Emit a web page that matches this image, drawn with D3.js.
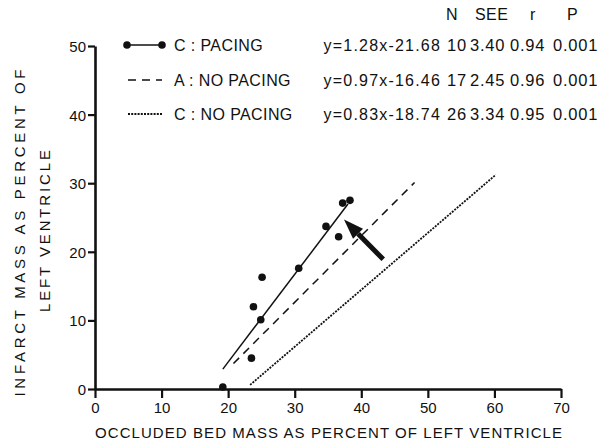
<!DOCTYPE html>
<html>
<head>
<meta charset="utf-8">
<script src="https://cdn.jsdelivr.net/npm/d3@7"></script>
<style>
  body { margin: 0; background: #fff; }
  svg text { font-family: "Liberation Sans", Arial, Helvetica, sans-serif; fill: #111; }
</style>
</head>
<body>
<svg id="chart" width="606" height="447"></svg>
<script>
// Données
const pacingX = [19.2, 23.5, 23.8, 24.9, 25.1, 30.6, 34.7, 36.6, 37.2, 38.3];
const pacingY = [0.3, 4.5, 12.0, 10.1, 16.3, 17.6, 23.7, 22.2, 27.1, 27.5];

const groups = ["C : PACING", "A : NO PACING", "C : NO PACING"];
const slopes = [1.28, 0.97, 0.83];
const intercepts = [-21.68, -16.46, -18.74];
const fitStart = [19.2, 20.8, 23.3];
const fitEnd = [38.0, 48.0, 60.2];
const equations = ["y=1.28x-21.68", "y=0.97x-16.46", "y=0.83x-18.74"];
const nValues = ["10", "17", "26"];
const seeValues = ["3.40", "2.45", "3.34"];
const rValues = ["0.94", "0.96", "0.95"];
const pValues = ["0.001", "0.001", "0.001"];
const statHeaders = ["N", "SEE", "r", "P"];

const xTicks = [0, 10, 20, 30, 40, 50, 60, 70];
const yTicks = [0, 10, 20, 30, 40, 50];

// flèche : queue -> pointe (coordonnées des données)
const arrowTail = [43.3, 18.9];
const arrowTip = [37.4, 24.7];

const svg = d3.select("#chart");

const x = d3.scaleLinear().domain([0, 70]).range([95, 561]);
const y = d3.scaleLinear().domain([0, 50]).range([389, 46]);

const dashes = [null, "8,6", "2,1.2"];
const widths = [1.5, 1.5, 1.8];

// Axes
const xAxis = svg.append("g")
    .attr("transform", `translate(0,${y(0)})`)
    .call(d3.axisBottom(x).tickValues(xTicks).tickSize(9).tickSizeOuter(0).tickPadding(4));
const yAxis = svg.append("g")
    .attr("transform", `translate(${x(0)},0)`)
    .call(d3.axisLeft(y).tickValues(yTicks).tickSize(7).tickSizeOuter(0).tickPadding(2));

[xAxis, yAxis].forEach(a => {
  a.select(".domain").attr("stroke", "#111").attr("stroke-width", 2.6);
  a.selectAll(".tick line").attr("stroke", "#111").attr("stroke-width", 2.2);
  a.selectAll(".tick text")
    .style("font-family", "'Liberation Sans', Arial, sans-serif")
    .style("font-size", "15px")
    .attr("fill", "#111");
});
yAxis.selectAll(".tick text").attr("dy", "0.36em");

// Droites de régression
const line = d3.line().x(d => x(d[0])).y(d => y(d[1]));
groups.forEach((g, i) => {
  const pts = [fitStart[i], fitEnd[i]].map(v => [v, slopes[i] * v + intercepts[i]]);
  svg.append("path")
      .attr("d", line(pts))
      .attr("fill", "none")
      .attr("stroke", "#111")
      .attr("stroke-width", widths[i])
      .attr("stroke-dasharray", dashes[i]);
});

// Points (C : pacing)
svg.selectAll("circle.pt")
    .data(pacingX.map((v, i) => [v, pacingY[i]]))
    .enter().append("circle")
    .attr("class", "pt")
    .attr("cx", d => x(d[0]))
    .attr("cy", d => y(d[1]))
    .attr("r", 3.8)
    .attr("fill", "#111");

// Flèche
const tx = x(arrowTail[0]), ty = y(arrowTail[1]);
const hx = x(arrowTip[0]), hy = y(arrowTip[1]);
const ang = Math.atan2(hy - ty, hx - tx);
const headLen = 20, headW = 7;
const bx = hx - headLen * Math.cos(ang), by = hy - headLen * Math.sin(ang);
svg.append("line")
    .attr("x1", tx).attr("y1", ty).attr("x2", bx).attr("y2", by)
    .attr("stroke", "#111").attr("stroke-width", 5);
svg.append("polygon")
    .attr("points", [
      [hx, hy],
      [bx + headW * Math.sin(ang), by - headW * Math.cos(ang)],
      [bx - headW * Math.sin(ang), by + headW * Math.cos(ang)]
    ].map(p => p.join(",")).join(" "))
    .attr("fill", "#111");

// Légende
const rowY = [45, 80, 114];
groups.forEach((g, i) => {
  svg.append("line")
      .attr("x1", i === 0 ? 127 : 128).attr("x2", 162)
      .attr("y1", rowY[i]).attr("y2", rowY[i])
      .attr("stroke", "#111")
      .attr("stroke-width", widths[i])
      .attr("stroke-dasharray", dashes[i]);
  if (i === 0) {
    [127, 162].forEach(cx => svg.append("circle")
        .attr("cx", cx).attr("cy", rowY[i]).attr("r", 3.8).attr("fill", "#111"));
  }
  svg.append("text")
      .attr("x", 174).attr("y", rowY[i] + 6)
      .style("font-size", "16px")
      .style("letter-spacing", "0.4px")
      .text(g);
});

// Tableau des statistiques
const colX = [447, 470, 510, 553];
const headX = [446, 475, 530, 567];
statHeaders.forEach((h, j) => {
  svg.append("text")
      .attr("x", headX[j]).attr("y", 20)
      .style("font-size", "16px")
      .style("letter-spacing", "0.4px")
      .text(h);
});
groups.forEach((g, i) => {
  svg.append("text")
      .attr("x", 441).attr("y", rowY[i] + 6)
      .attr("text-anchor", "end")
      .style("font-size", "16px")
      .style("letter-spacing", "1.2px")
      .text(equations[i]);
  [nValues[i], seeValues[i], rValues[i], pValues[i]].forEach((v, j) => {
    svg.append("text")
        .attr("x", colX[j]).attr("y", rowY[i] + 6)
        .style("font-size", "16.5px")
        .style("letter-spacing", "0.8px")
        .text(v);
  });
});

// Titres des axes
svg.append("text")
    .attr("x", 95).attr("y", 438)
    .attr("textLength", 467)
    .attr("lengthAdjust", "spacing")
    .style("font-size", "15px")
    .text("OCCLUDED BED MASS AS PERCENT OF LEFT VENTRICLE");

svg.append("text")
    .attr("transform", "translate(25,233) rotate(-90)")
    .attr("text-anchor", "middle")
    .attr("textLength", 327)
    .attr("lengthAdjust", "spacing")
    .style("font-size", "15px")
    .text("INFARCT MASS AS PERCENT OF");
svg.append("text")
    .attr("transform", "translate(50,231) rotate(-90)")
    .attr("text-anchor", "middle")
    .attr("textLength", 162)
    .attr("lengthAdjust", "spacing")
    .style("font-size", "15px")
    .text("LEFT VENTRICLE");
</script>
</body>
</html>
